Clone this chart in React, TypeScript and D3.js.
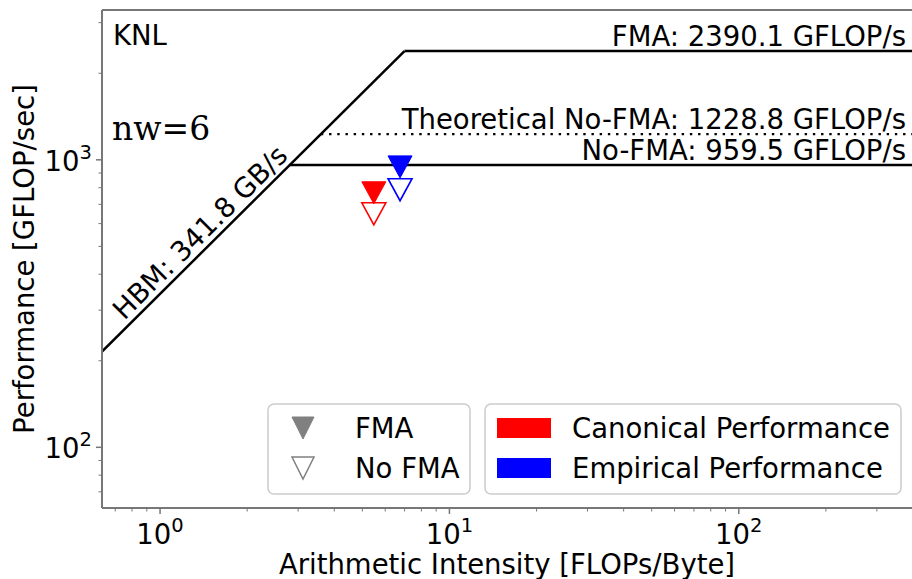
import React from "react";
import * as d3 from "d3";

const W = 912;
const H = 579;

// Data
const bandwidthNames = ["HBM"];
const bandwidthValues = [341.8];
const ceilingNames = ["FMA", "Theoretical No-FMA", "No-FMA"];
const ceilingValues = [2390.1, 1228.8, 959.5];
const ceilingDotted = [false, true, false];

const seriesNames = ["Canonical Performance", "Empirical Performance"];
const seriesColors = ["#ff0000", "#0000ff"];
const seriesAI = [5.48, 6.75];
const seriesFMA = [768, 945];
const seriesNoFMA = [649, 787];

const markerLegend = ["FMA", "No FMA"];
const xTickValues = [1, 10, 100];
const yTickValues = [100, 1000];
const xDomain = [0.63, 400];
const yDomain = [61.5, 3320];

const FONT = "DejaVu Sans, sans-serif";
const FS = 27.5;

function tri(cx: number, cy: number, w = 24, h = 22) {
  return `M${cx - w / 2},${cy - h / 2}L${cx + w / 2},${cy - h / 2}L${cx},${cy + h / 2}Z`;
}

export default function App() {
  const left = 102, right = 913, top = 10, bottom = 508;
  const x = d3.scaleLog().domain(xDomain).range([left, right]);
  const y = d3.scaleLog().domain(yDomain).range([bottom, top]);

  const xMinor: number[] = [];
  const yMinor: number[] = [];
  for (let e = -1; e <= 3; e++) {
    for (let m = 2; m <= 9; m++) {
      const v = m * Math.pow(10, e);
      if (v >= xDomain[0] && v <= xDomain[1]) xMinor.push(v);
      if (v >= yDomain[0] && v <= yDomain[1]) yMinor.push(v);
    }
  }

  const bw = bandwidthValues[0];
  const maxC = ceilingValues[0];
  const ridge = maxC / bw;
  const bwLine = d3.line<[number, number]>().x((d) => x(d[0])).y((d) => y(d[1]));
  const bwPts: [number, number][] = [
    [xDomain[0], bw * xDomain[0]],
    [ridge, maxC],
  ];

  const lblAI = 1.5;
  const lx = x(lblAI);
  const ly = y(bw * lblAI);
  const angle = (Math.atan2(y(bw * 10) - y(bw), x(10) - x(1)) * 180) / Math.PI;

  const spine = "#777";

  return (
    <svg width={W} height={H} style={{ position: "absolute", left: 0, top: 0, background: "#fff" }}>
      <defs>
        <clipPath id="plot">
          <rect x={left} y={top} width={right - left} height={bottom - top} />
        </clipPath>
      </defs>
      <rect x={0} y={0} width={W} height={H} fill="#fff" />
      <g clipPath="url(#plot)">
        <path d={bwLine(bwPts) || ""} stroke="#000" strokeWidth={2.5} fill="none" />
        {ceilingValues.map((c, i) => (
          <line
            key={i}
            x1={x(c / bw)}
            x2={right + 5}
            y1={y(c)}
            y2={y(c)}
            stroke="#000"
            strokeWidth={ceilingDotted[i] ? 2.4 : 2.5}
            strokeDasharray={ceilingDotted[i] ? "2.4 5.8" : undefined}
          />
        ))}
        {seriesNames.map((s, i) => (
          <g key={s}>
            <path d={tri(x(seriesAI[i]), y(seriesNoFMA[i]))} fill="#fff" stroke={seriesColors[i]} strokeWidth={1.6} />
            <path d={tri(x(seriesAI[i]), y(seriesFMA[i]))} fill={seriesColors[i]} stroke={seriesColors[i]} strokeWidth={1} />
          </g>
        ))}
      </g>
      {ceilingValues.map((c, i) => (
        <text key={i} x={906} y={y(c) - 5} textAnchor="end" fontFamily={FONT} fontSize={FS} fill="#000">
          {`${ceilingNames[i]}: ${c.toFixed(1)} GFLOP/s`}
        </text>
      ))}
      <text
        transform={`translate(${lx},${ly}) rotate(${angle})`}
        dy={-6}
        textAnchor="middle"
        fontFamily={FONT}
        fontSize={FS}
      >
        {`${bandwidthNames[0]}: ${bw.toFixed(1)} GB/s`}
      </text>
      <text x={113} y={45} fontFamily={FONT} fontSize={FS}>KNL</text>
      <text x={112} y={140} fontFamily="DejaVu Serif, serif" fontSize={33}>nw=6</text>

      {/* Legends */}
      <rect x={268} y={404} width={202} height={90} rx={6} fill="#fff" fillOpacity={0.8} stroke="#ccc" strokeWidth={1.5} />
      <path d={tri(303, 428, 22, 22)} fill="#808080" stroke="#808080" />
      <path d={tri(303, 468, 22, 22)} fill="#fff" stroke="#808080" strokeWidth={1.5} />
      {markerLegend.map((t, i) => (
        <text key={t} x={355} y={438 + i * 40} fontFamily={FONT} fontSize={FS}>{t}</text>
      ))}
      <rect x={485} y={404} width={416} height={90} rx={6} fill="#fff" fillOpacity={0.8} stroke="#ccc" strokeWidth={1.5} />
      {seriesNames.map((s, i) => (
        <g key={s}>
          <rect x={497} y={418 + i * 40} width={54} height={20} fill={seriesColors[i]} />
          <text x={572} y={438 + i * 40} fontFamily={FONT} fontSize={FS}>{s}</text>
        </g>
      ))}

      {/* Axes */}
      <line x1={left} x2={left} y1={top} y2={bottom} stroke={spine} strokeWidth={2} />
      <line x1={left} x2={right} y1={top} y2={top} stroke={spine} strokeWidth={2} />
      <line x1={left} x2={right} y1={bottom} y2={bottom} stroke={spine} strokeWidth={2} />
      {xTickValues.map((v) => (
        <g key={v}>
          <line x1={x(v)} x2={x(v)} y1={bottom} y2={bottom + 6} stroke={spine} strokeWidth={1.5} />
          <text x={x(v)} y={544} textAnchor="middle" fontFamily={FONT} fontSize={FS}>
            10<tspan fontSize={19.5} dy={-12}>{Math.round(Math.log10(v))}</tspan>
          </text>
        </g>
      ))}
      {xMinor.map((v) => (
        <line key={v} x1={x(v)} x2={x(v)} y1={bottom} y2={bottom + 3.5} stroke={spine} strokeWidth={1} />
      ))}
      {yTickValues.map((v) => (
        <g key={v}>
          <line x1={left - 6} x2={left} y1={y(v)} y2={y(v)} stroke={spine} strokeWidth={1.5} />
          <text x={92} y={y(v) + 11} textAnchor="end" fontFamily={FONT} fontSize={FS}>
            10<tspan fontSize={19.5} dy={-12}>{Math.round(Math.log10(v))}</tspan>
          </text>
        </g>
      ))}
      {yMinor.map((v) => (
        <line key={v} x1={left - 3.5} x2={left} y1={y(v)} y2={y(v)} stroke={spine} strokeWidth={1} />
      ))}
      <text x={507} y={574} textAnchor="middle" fontFamily={FONT} fontSize={FS}>
        Arithmetic Intensity [FLOPs/Byte]
      </text>
      <text
        transform={`translate(34,${(top + bottom) / 2}) rotate(-90)`}
        textAnchor="middle"
        fontFamily={FONT}
        fontSize={FS}
      >
        Performance [GFLOP/sec]
      </text>
    </svg>
  );
}
